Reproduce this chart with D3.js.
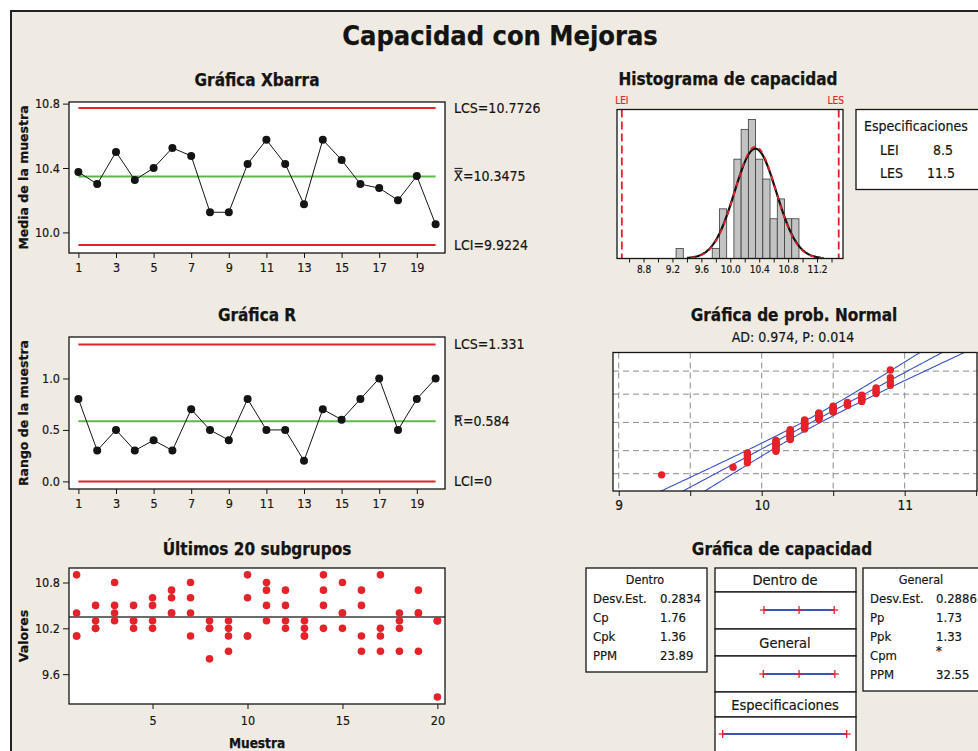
<!DOCTYPE html>
<html>
<head>
<meta charset="utf-8">
<script src="https://cdn.jsdelivr.net/npm/d3@7"></script>
<style>
  html, body { margin: 0; padding: 0; background: #fff; }
  svg text { font-stretch: condensed; }
</style>
</head>
<body>
<svg id="chart" width="978" height="751"></svg>
<script>
// ---------------- data ----------------
const samples = [1,2,3,4,5,6,7,8,9,10,11,12,13,14,15,16,17,18,19,20];
const xbarValues = [10.375,10.300,10.500,10.325,10.400,10.525,10.475,10.125,10.125,10.425,
                    10.575,10.425,10.175,10.575,10.450,10.300,10.275,10.200,10.350,10.050];
const rangeValues = [0.8,0.3,0.5,0.3,0.4,0.3,0.7,0.5,0.4,0.8,0.5,0.5,0.2,0.7,0.6,0.8,1.0,0.5,0.8,1.0];
const subgroupValues = [
  [10.9,10.4,10.1,10.1], [10.5,10.3,10.2,10.2], [10.8,10.5,10.4,10.3], [10.5,10.3,10.3,10.2],
  [10.6,10.5,10.3,10.2], [10.7,10.6,10.4,10.4], [10.8,10.6,10.4,10.1], [10.3,10.2,10.2,9.8],
  [10.3,10.2,10.1,9.9],  [10.9,10.6,10.1,10.1], [10.8,10.7,10.5,10.3], [10.7,10.5,10.3,10.2],
  [10.3,10.2,10.1,10.1], [10.9,10.7,10.5,10.2], [10.8,10.4,10.4,10.2], [10.7,10.5,10.1,9.9],
  [10.9,10.2,10.1,9.9],  [10.4,10.3,10.2,9.9],  [10.7,10.4,10.4,9.9],  [10.3,10.3,10.3,9.3]
];
const xbarLCS = 10.7726, xbarMean = 10.3475, xbarLCI = 9.9224;
const rLCS = 1.331, rMean = 0.584, rLCI = 0;
const specLEI = 8.5, specLES = 11.5;
const sdWithin = 0.2834, sdOverall = 0.2886;
const histBinCenters = [9.3,9.8,9.9,10.0,10.1,10.2,10.3,10.4,10.5,10.6,10.7,10.8,10.9];
const histCounts     = [1,  1,  5,  0,   10,  13,  14,  10,  8,   4,   6,   4,   4];
const histBinWidth = 0.1;
const withinStats  = [["Desv.Est.","0.2834"],["Cp","1.76"],["Cpk","1.36"],["PPM","23.89"]];
const overallStats = [["Desv.Est.","0.2886"],["Pp","1.73"],["Ppk","1.33"],["Cpm","*"],["PPM","32.55"]];
const adText = "AD: 0.974, P: 0.014";
const xbarTicks = [10.0,10.4,10.8];
const rTicks = [0.0,0.5,1.0];
const sampleTicks = [1,3,5,7,9,11,13,15,17,19];
const lastXTicks = [5,10,15,20];
const lastYTicks = [9.6,10.2,10.8];
const histTicks = [8.6,8.8,9.0,9.2,9.4,9.6,9.8,10.0,10.2,10.4,10.6,10.8,11.0,11.2,11.4];
const histLabels = [8.8,9.2,9.6,10.0,10.4,10.8,11.2];
const probTicks = [9,9.5,10,10.5,11,11.5];
const probLabels = [9,10,11];
const probGridX = [9,9.5,10,10.5,11];
const probGridPct = [1,10,50,90,99];

// ---------------- styling ----------------
const BG = "#efebe2", RED = "#e3222a", GREEN = "#5db849", BLUE = "#3a52c4", INK = "#141414";
const FC = '"DejaVu Sans Condensed","DejaVu Sans",sans-serif';
const FW = '"DejaVu Sans",sans-serif';

const svg = d3.select("#chart");
svg.append("rect").attr("width",978).attr("height",751).attr("fill","#fff");
svg.append("rect").attr("x",11).attr("y",11).attr("width",990).attr("height",760)
   .attr("fill",BG).attr("stroke","#222").attr("stroke-width",2);

function label(g, x, y, s, o = {}) {
  const fill = o.fill || INK;
  return g.append("text").attr("x",x).attr("y",y).text(s)
    .attr("font-family", o.family || FC)
    .attr("font-size", o.size || 13)
    .attr("font-weight", o.weight || "normal")
    .attr("text-anchor", o.anchor || "start")
    .attr("dy", o.dy || null)
    .attr("fill", fill)
    .attr("stroke", fill).attr("stroke-width", o.weight === "bold" ? 0.25 : 0.18);
}
function styleAxis(g, size) {
  g.select(".domain").remove();
  g.attr("font-family", FC).attr("font-size", size);
  g.selectAll(".tick line").attr("stroke", INK);
  g.selectAll(".tick text").attr("fill", INK).attr("stroke", INK).attr("stroke-width", 0.18);
}
function plotBox(g, x0, y0, x1, y1) {
  return g.append("rect").attr("x",x0).attr("y",y0).attr("width",x1-x0).attr("height",y1-y0)
    .attr("fill","#fff");
}
function frame(g, x0, y0, x1, y1) {
  g.append("rect").attr("x",x0).attr("y",y0).attr("width",x1-x0).attr("height",y1-y0)
    .attr("fill","none").attr("stroke",INK).attr("stroke-width",1.3);
}

// title
label(svg, 500, 45, "Capacidad con Mejoras", {size:27, weight:"bold", anchor:"middle"});

// ---------------- control charts ----------------
function controlChart(c) {
  const g = svg.append("g");
  const X0 = 69, X1 = 445;
  const x = d3.scaleLinear().domain([0.5,20.5]).range([X0,X1]);
  const y = d3.scaleLinear().domain(c.domain).range([c.bottom,c.top]);
  label(g, 257, c.titleY, c.title, {size:17, weight:"bold", anchor:"middle"});
  plotBox(g, X0, c.top, X1, c.bottom);
  [[c.lcs,RED],[c.center,GREEN],[c.lci,RED]].forEach(([v,col]) => {
    g.append("line").attr("x1",x(samples[0])).attr("x2",x(samples[samples.length-1]))
      .attr("y1",y(v)).attr("y2",y(v)).attr("stroke",col).attr("stroke-width",2);
  });
  g.append("path").datum(c.values)
    .attr("d", d3.line().x((d,i)=>x(samples[i])).y(d=>y(d)))
    .attr("fill","none").attr("stroke",INK).attr("stroke-width",1);
  g.selectAll("circle.pt").data(c.values).join("circle").attr("class","pt")
    .attr("cx",(d,i)=>x(samples[i])).attr("cy",d=>y(d)).attr("r",4).attr("fill",INK);
  frame(g, X0, c.top, X1, c.bottom);
  const ay = g.append("g").attr("transform",`translate(${X0},0)`)
    .call(d3.axisLeft(y).tickValues(c.ticks).tickFormat(d3.format(".1f")).tickSize(6).tickPadding(3));
  styleAxis(ay, 12.5);
  const ax = g.append("g").attr("transform",`translate(0,${c.bottom})`)
    .call(d3.axisBottom(x).tickValues(sampleTicks).tickFormat(d3.format("d")).tickSize(5).tickPadding(5));
  styleAxis(ax, 12.5);
  label(g, 0, 0, c.yTitle, {family:FW, size:12.5, weight:"bold", anchor:"middle", dy:"0.35em"})
    .attr("transform",`translate(24,${(c.top+c.bottom)/2}) rotate(-90)`).style("font-stretch","normal");
  // limit labels
  const LX = 454;
  label(g, LX, y(c.lcs), "LCS=" + c.lcs, {size:14, dy:"0.36em"});
  label(g, LX, y(c.lci), "LCI=" + c.lci, {size:14, dy:"0.36em"});
  const sym = label(g, LX, y(c.center), c.symbol, {size:14, dy:"0.36em"});
  const bb = sym.node().getBBox();
  label(g, LX + bb.width, y(c.center), "=" + c.center, {size:14, dy:"0.36em"});
  for (let k = 0; k < c.bars; k++) {
    const yy = bb.y + 2.5 - k * 2.6;
    g.append("line").attr("x1",bb.x+0.5).attr("x2",bb.x+bb.width-0.5)
      .attr("y1",yy).attr("y2",yy).attr("stroke",INK).attr("stroke-width",1);
  }
}

controlChart({title:"Gráfica Xbarra", titleY:86, top:102, bottom:253, domain:[9.872,10.81],
  values:xbarValues, lcs:xbarLCS, center:xbarMean, lci:xbarLCI, ticks:xbarTicks,
  yTitle:"Media de la muestra", symbol:"X", bars:2});
controlChart({title:"Gráfica R", titleY:321, top:337, bottom:489, domain:[-0.074,1.403],
  values:rangeValues, lcs:rLCS, center:rMean, lci:rLCI, ticks:rTicks,
  yTitle:"Rango de la muestra", symbol:"R", bars:1});

// ---------------- last 20 subgroups ----------------
(function(){
  const g = svg.append("g");
  const X0 = 69, X1 = 445, Y0 = 568, Y1 = 704;
  const x = d3.scaleLinear().domain([0.6,20.4]).range([X0,X1]);
  const y = d3.scaleLinear().domain([9.209,10.99]).range([Y1,Y0]);
  label(g, 257, 555, "Últimos 20 subgrupos", {size:17, weight:"bold", anchor:"middle"});
  plotBox(g, X0, Y0, X1, Y1);
  g.append("line").attr("x1",X0).attr("x2",X1).attr("y1",y(xbarMean)).attr("y2",y(xbarMean))
    .attr("stroke","#3a3a3a").attr("stroke-width",1.6);
  const pts = [];
  subgroupValues.forEach((vals,i) => vals.forEach(v => pts.push({s:samples[i], v})));
  g.selectAll("circle").data(pts).join("circle")
    .attr("cx",d=>x(d.s)).attr("cy",d=>y(d.v)).attr("r",3.8).attr("fill",RED);
  frame(g, X0, Y0, X1, Y1);
  const ay = g.append("g").attr("transform",`translate(${X0},0)`)
    .call(d3.axisLeft(y).tickValues(lastYTicks).tickFormat(d3.format(".1f")).tickSize(6).tickPadding(3));
  styleAxis(ay, 12.5);
  const ax = g.append("g").attr("transform",`translate(0,${Y1})`)
    .call(d3.axisBottom(x).tickValues(lastXTicks).tickFormat(d3.format("d")).tickSize(5).tickPadding(7));
  styleAxis(ax, 12.5);
  label(g, 0, 0, "Valores", {family:FW, size:12.5, weight:"bold", anchor:"middle", dy:"0.35em"})
    .attr("transform",`translate(24,${(Y0+Y1)/2}) rotate(-90)`).style("font-stretch","normal");
  label(g, 257, 748, "Muestra", {size:13.5, weight:"bold", anchor:"middle"});
})();

// ---------------- capability histogram ----------------
(function(){
  const g = svg.append("g");
  const X0 = 617, X1 = 843, Y0 = 109.5, Y1 = 258.5;
  const x = d3.scaleLinear().domain([8.433,11.559]).range([X0,X1]);
  const y = d3.scaleLinear().domain([0,15]).range([Y1,Y0]);
  label(g, 728, 85, "Histograma de capacidad", {size:17, weight:"bold", anchor:"middle"});
  plotBox(g, X0, Y0, X1, Y1);
  const bins = histBinCenters.map((c,i) => ({c, n:histCounts[i]})).filter(d => d.n > 0);
  g.selectAll("rect.bar").data(bins).join("rect").attr("class","bar")
    .attr("x",d=>x(d.c - histBinWidth/2)).attr("width",d=>x(d.c + histBinWidth/2) - x(d.c - histBinWidth/2))
    .attr("y",d=>y(d.n)).attr("height",d=>Y1 - y(d.n))
    .attr("fill","#c3c3c3").attr("stroke","#3c3c3c").attr("stroke-width",0.8);
  const N = d3.sum(histCounts);
  const curve = (sd, lo, hi) => {
    const pts = [];
    for (let v = lo; v <= hi + 1e-9; v += 0.01) {
      const pdf = Math.exp(-0.5*((v - xbarMean)/sd)**2) / (sd*Math.sqrt(2*Math.PI));
      pts.push([x(v), y(N*histBinWidth*pdf)]);
    }
    return d3.line()(pts);
  };
  g.append("path").attr("d", curve(sdOverall, 9.40, 11.25)).attr("fill","none")
    .attr("stroke","#111").attr("stroke-width",2.2);
  g.append("path").attr("d", curve(sdWithin, 9.45, 11.35)).attr("fill","none")
    .attr("stroke",RED).attr("stroke-width",1.8).attr("stroke-dasharray","5,5");
  [specLEI, specLES].forEach(v => {
    g.append("line").attr("x1",x(v)).attr("x2",x(v)).attr("y1",Y0).attr("y2",Y1)
      .attr("stroke",RED).attr("stroke-width",1.8).attr("stroke-dasharray","8,4");
  });
  label(g, x(specLEI), 104, "LEI", {size:10, anchor:"middle", fill:RED});
  label(g, x(specLES) - 3, 104, "LES", {size:10, anchor:"middle", fill:RED});
  frame(g, X0, Y0, X1, Y1);
  const ax = g.append("g").attr("transform",`translate(0,${Y1})`)
    .call(d3.axisBottom(x).tickValues(histTicks).tickSize(4).tickPadding(3)
      .tickFormat(d => histLabels.some(l => Math.abs(l - d) < 1e-9) ? d3.format(".1f")(d) : ""));
  styleAxis(ax, 10);

  // specification legend
  const lg = svg.append("g");
  lg.append("rect").attr("x",856).attr("y",109.5).attr("width",140).attr("height",80)
    .attr("fill","#fff").attr("stroke",INK).attr("stroke-width",1.3);
  label(lg, 864, 131, "Especificaciones", {size:14});
  label(lg, 880, 155, "LEI", {size:14});
  label(lg, 953, 155, String(specLEI), {size:14, anchor:"end"});
  label(lg, 880, 178, "LES", {size:14});
  label(lg, 955, 178, String(specLES), {size:14, anchor:"end"});
})();

// ---------------- normal probability plot ----------------
function invNorm(p) {
  const a = [-3.969683028665376e+01,2.209460984245205e+02,-2.759285104469687e+02,1.383577518672690e+02,-3.066479806614716e+01,2.506628277459239e+00];
  const b = [-5.447609879822406e+01,1.615858368580409e+02,-1.556989798598866e+02,6.680131188771972e+01,-1.328068155288572e+01];
  const c = [-7.784894002430293e-03,-3.223964580411365e-01,-2.400758277161838e+00,-2.549732539343734e+00,4.374664141464968e+00,2.938163982698783e+00];
  const d = [7.784695709041462e-03,3.224671290700398e-01,2.445134137142996e+00,3.754408661907416e+00];
  const pl = 0.02425;
  if (p < pl) {
    const q = Math.sqrt(-2*Math.log(p));
    return (((((c[0]*q+c[1])*q+c[2])*q+c[3])*q+c[4])*q+c[5])/((((d[0]*q+d[1])*q+d[2])*q+d[3])*q+1);
  }
  if (p > 1 - pl) {
    const q = Math.sqrt(-2*Math.log(1-p));
    return -(((((c[0]*q+c[1])*q+c[2])*q+c[3])*q+c[4])*q+c[5])/((((d[0]*q+d[1])*q+d[2])*q+d[3])*q+1);
  }
  const q = p - 0.5, r = q*q;
  return (((((a[0]*r+a[1])*r+a[2])*r+a[3])*r+a[4])*r+a[5])*q/(((((b[0]*r+b[1])*r+b[2])*r+b[3])*r+b[4])*r+1);
}
(function(){
  const g = svg.append("g");
  const X0 = 613, X1 = 977, Y0 = 352.5, Y1 = 491;
  const x = d3.scaleLinear().domain([8.96,11.506]).range([X0,X1]);
  const z = d3.scaleLinear().domain([-3.11,3.17]).range([Y1,Y0]);
  label(g, 794, 321, "Gráfica de prob. Normal", {size:17, weight:"bold", anchor:"middle"});
  label(g, 793, 342, adText, {size:14, anchor:"middle"});
  plotBox(g, X0, Y0, X1, Y1);
  g.append("clipPath").attr("id","probClip").append("rect")
    .attr("x",X0).attr("y",Y0).attr("width",X1-X0).attr("height",Y1-Y0);
  const inner = g.append("g").attr("clip-path","url(#probClip)");
  probGridX.forEach(v => inner.append("line").attr("x1",x(v)).attr("x2",x(v)).attr("y1",Y0).attr("y2",Y1)
    .attr("stroke","#8c8c8c").attr("stroke-width",1).attr("stroke-dasharray","6,4"));
  probGridPct.forEach(p => inner.append("line").attr("x1",X0).attr("x2",X1)
    .attr("y1",z(invNorm(p/100))).attr("y2",z(invNorm(p/100)))
    .attr("stroke","#8c8c8c").attr("stroke-width",1).attr("stroke-dasharray","6,4"));
  // fitted line with 95% confidence bands
  const all = subgroupValues.flat().sort(d3.ascending);
  const n = all.length;
  const zs = d3.range(-3.8, 3.81, 0.05);
  [-1, 0, 1].forEach(sgn => {
    const pts = zs.map(zz => {
      const half = 1.96 * sdOverall * Math.sqrt((1 + zz*zz/2) / n);
      return [x(xbarMean + zz*sdOverall + sgn*half), z(zz)];
    });
    inner.append("path").attr("d", d3.line()(pts)).attr("fill","none")
      .attr("stroke",BLUE).attr("stroke-width",1.1);
  });
  inner.selectAll("circle").data(all).join("circle")
    .attr("cx",d=>x(d)).attr("cy",(d,i)=>z(invNorm((i+1-0.3)/(n+0.4))))
    .attr("r",3.7).attr("fill",RED);
  frame(g, X0, Y0, X1, Y1);
  const ax = g.append("g").attr("transform",`translate(0,${Y1})`)
    .call(d3.axisBottom(x).tickValues(probTicks).tickSize(5).tickPadding(4)
      .tickFormat(d => probLabels.includes(d) ? String(d) : ""));
  styleAxis(ax, 13.5);
})();

// ---------------- capability plot ----------------
(function(){
  const g = svg.append("g");
  label(g, 782, 555, "Gráfica de capacidad", {size:17, weight:"bold", anchor:"middle"});
  const box = (x0,y0,x1,y1) => g.append("rect").attr("x",x0).attr("y",y0).attr("width",x1-x0)
    .attr("height",y1-y0).attr("fill","#fff").attr("stroke",INK).attr("stroke-width",1.3);
  // within statistics
  box(586, 568, 707, 672);
  label(g, 645, 584, "Dentro", {size:12.5, anchor:"middle"});
  withinStats.forEach(([k,v],i) => {
    label(g, 593, 603 + i*19, k, {size:13});
    label(g, 660, 603 + i*19, v, {size:13});
  });
  // overall statistics
  box(863, 568, 995, 691);
  label(g, 921, 584, "General", {size:12.5, anchor:"middle"});
  overallStats.forEach(([k,v],i) => {
    label(g, 870, 603 + i*19, k, {size:13});
    label(g, 936, (v === "*" ? 598 : 603) + i*19, v, {size:13});
  });
  // interval panels
  const cx = d3.scaleLinear().domain([specLEI, specLES]).range([722.7, 846.7]);
  const sections = [
    {title:"Dentro de",        h:[568,592], b:[592,629], y:610, marks:[xbarMean-3*sdWithin, xbarMean, xbarMean+3*sdWithin]},
    {title:"General",          h:[629,656], b:[656,692], y:674, marks:[xbarMean-3*sdOverall, xbarMean, xbarMean+3*sdOverall]},
    {title:"Especificaciones", h:[692,717], b:[717,770], y:734, marks:[specLEI, specLES]}
  ];
  sections.forEach(s => {
    box(715, s.h[0], 856, s.h[1]);
    box(715, s.b[0], 856, s.b[1]);
    label(g, 785, (s.h[0]+s.h[1])/2, s.title, {size:14.5, anchor:"middle", dy:"0.36em"});
    const lo = d3.min(s.marks), hi = d3.max(s.marks);
    g.append("line").attr("x1",cx(lo)).attr("x2",cx(hi)).attr("y1",s.y).attr("y2",s.y)
      .attr("stroke",BLUE).attr("stroke-width",1.8);
    s.marks.forEach(m => {
      g.append("line").attr("x1",cx(m)-4).attr("x2",cx(m)+4).attr("y1",s.y).attr("y2",s.y)
        .attr("stroke",RED).attr("stroke-width",1.3);
      g.append("line").attr("x1",cx(m)).attr("x2",cx(m)).attr("y1",s.y-4).attr("y2",s.y+4)
        .attr("stroke",RED).attr("stroke-width",1.3);
    });
  });
})();
</script>
</body>
</html>
